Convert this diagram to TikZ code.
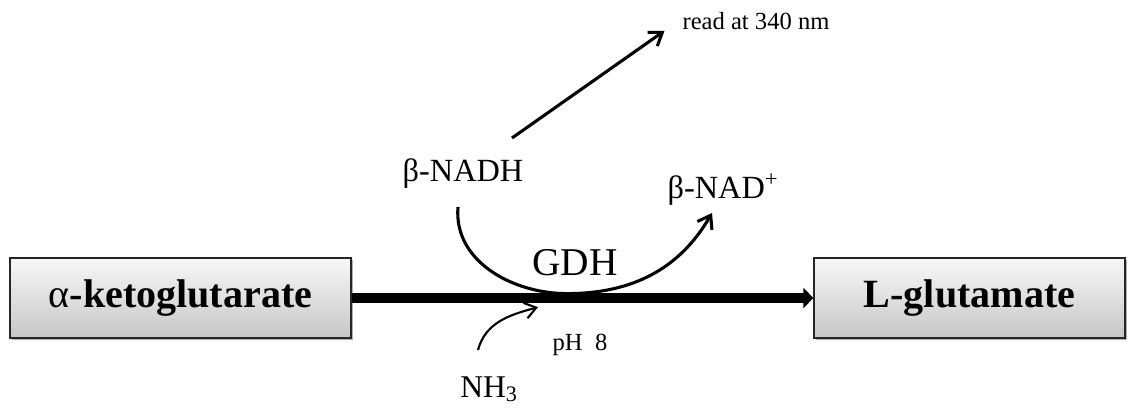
\documentclass[tikz,border=0pt]{standalone}
\usepackage{fontspec}
\setmainfont{Liberation Serif}
\usetikzlibrary{arrows.meta,shadows}

\tikzset{
	chembox/.style={draw=black!85, line width=0.9pt, minimum height=2cm, inner sep=0pt,
		top color=black!3, bottom color=black!22,
		drop shadow={shadow xshift=0.05cm, shadow yshift=-0.05cm, opacity=0.45, fill=black!70},
		font=\fontsize{28.5}{32}\selectfont\bfseries},
	species/.style={anchor=base, font=\fontsize{23}{27}\selectfont},
	note/.style={anchor=base, font=\fontsize{17.5}{21}\selectfont},
	barb/.style={line width=2.2pt, -{Straight Barb[length=0.3cm, width=0.42cm]}},
	thinbarb/.style={line width=1.5pt, -{Straight Barb[length=0.28cm, width=0.4cm]}}
}

\begin{document}
\begin{tikzpicture}
		%%%%% START %%%%%
		\useasboundingbox (0, 0) rectangle (28.175, 10.3);
		
		% substrate and product
		\node[chembox, minimum width=8.525cm] (kg) at (4.5125, 2.85) {{\mdseries α}-ketoglutarate};
		\node[chembox, minimum width=7.775cm] (glu) at (24.2375, 2.85) {L-glutamate};
		\draw[line width=6.8pt, -{Triangle[length=0.25cm, width=0.5cm]}] (kg) -- (glu);
		
		% cofactor and labels
		\node[species] (nadh) at (11.575, 5.75) {β-NADH};
		\node[species] (nad) at (18.075, 5.325) {β-NAD\textsuperscript{+}};
		\node[anchor=base, font=\fontsize{28}{32}\selectfont] (gdh) at (14.375, 3.425) {GDH};
		\node[note] (read) at (18.9, 9.55) {read at 340 nm};
		\node[note] (ph) at (14.5, 1.55) {pH~~8};
		\node[anchor=base, font=\fontsize{22.5}{26}\selectfont] (nh3) at (12.225, 0.375) {NH\textsubscript{3}};
		
		% NADH -> NAD+ swing
		\coordinate (nadh-out) at (11.45, 5.125);
		\coordinate (nad-in) at (17.8, 4.975);
		\coordinate (touch) at (14.175, 2.96);
		\draw[barb] (nadh-out) to[out=-95, in=180] (touch) to[out=0, in=-120] (nad-in);
		
		% absorbance readout
		\coordinate (read-from) at (12.8, 6.85);
		\draw[barb, shorten >=0.4cm] (read-from) -- (read.west);
		
		% ammonia feeding in
		\coordinate (nh3-from) at (11.95, 1.55);
		\coordinate (nh3-to) at (13.45, 2.62);
		\draw[thinbarb] (nh3-from) to[out=75, in=195] (nh3-to);
		
		%%%%% END %%%%%
	\end{tikzpicture}
\end{document}
